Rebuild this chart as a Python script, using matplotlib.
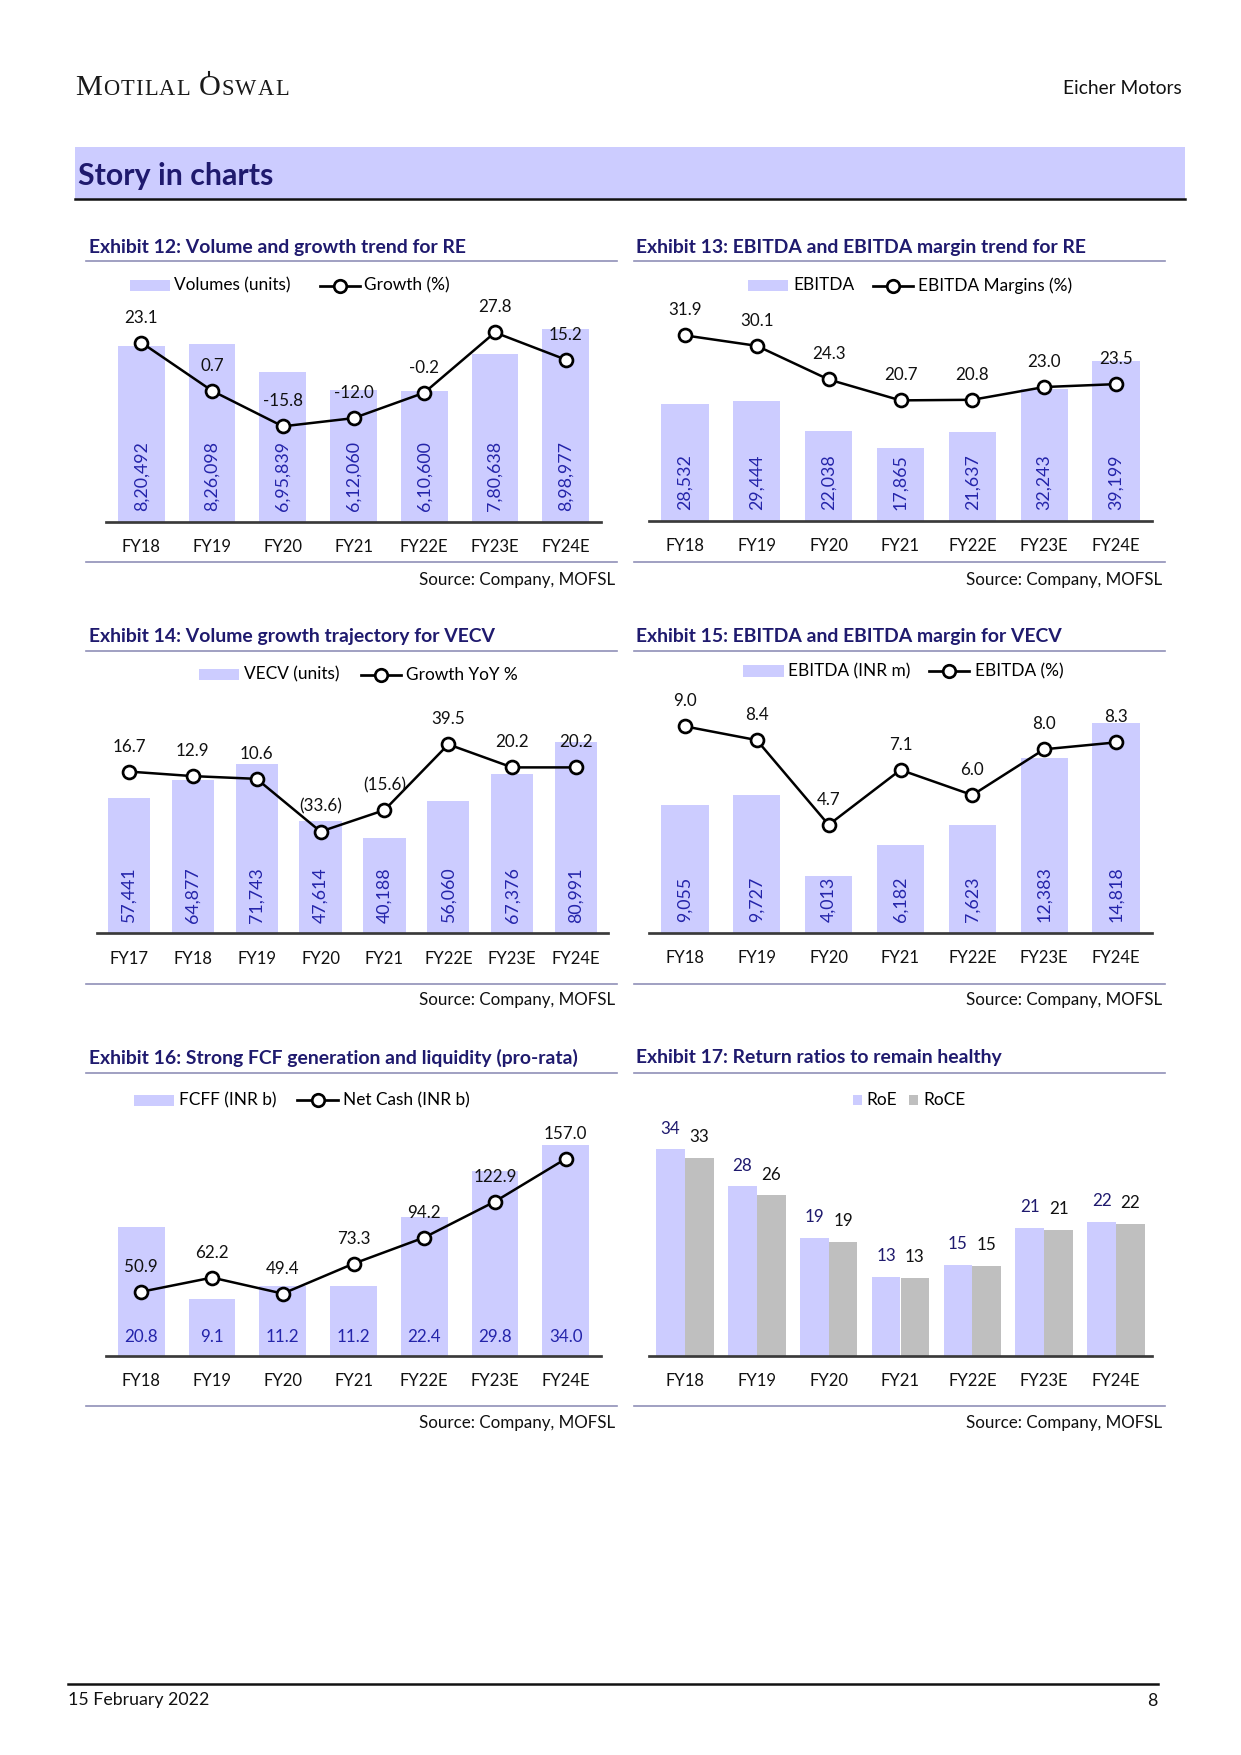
import matplotlib
matplotlib.use('Agg')
import numpy as np
import matplotlib.pyplot as plt
from matplotlib.lines import Line2D
from matplotlib.patches import Rectangle

plt.rcParams['font.family'] = ['Lato', 'DejaVu Sans']

W, H = 1241, 1755
LAV = '#CCCCFF'
GREY = '#BFBFBF'
NAVY = '#1F1A6E'
BLUE = '#2424AA'
RULE = '#9090B8'

years7 = ['FY18', 'FY19', 'FY20', 'FY21', 'FY22E', 'FY23E', 'FY24E']
years8 = ['FY17'] + years7

re_volumes = [820492, 826098, 695839, 612060, 610600, 780638, 898977]
re_growth = [23.1, 0.7, -15.8, -12.0, -0.2, 27.8, 15.2]

re_ebitda = [28532, 29444, 22038, 17865, 21637, 32243, 39199]
re_margin = [31.9, 30.1, 24.3, 20.7, 20.8, 23.0, 23.5]

vecv_volumes = [57441, 64877, 71743, 47614, 40188, 56060, 67376, 80991]
vecv_growth = [16.7, 12.9, 10.6, -33.6, -15.6, 39.5, 20.2, 20.2]

vecv_ebitda = [9055, 9727, 4013, 6182, 7623, 12383, 14818]
vecv_margin = [9.0, 8.4, 4.7, 7.1, 6.0, 8.0, 8.3]

fcff = [20.8, 9.1, 11.2, 11.2, 22.4, 29.8, 34.0]
net_cash = [50.9, 62.2, 49.4, 73.3, 94.2, 122.9, 157.0]

roe = [34.0, 27.9, 19.4, 12.9, 15.0, 21.0, 22.1]
roce = [32.6, 26.4, 18.7, 12.8, 14.8, 20.7, 21.7]


def inr(v):
    # indian digit grouping, 8,20,492
    s = str(int(v))
    last3, rest = s[-3:], s[:-3]
    groups = []
    while len(rest) > 2:
        groups.insert(0, rest[-2:])
        rest = rest[:-2]
    if rest:
        groups.insert(0, rest)
    return ','.join(groups + [last3])


def paren(v):
    return f'({abs(v):.1f})' if v < 0 else f'{v:.1f}'


fig = plt.figure(figsize=(W / 150, H / 150), dpi=150)
fig.patch.set_facecolor('white')


def px_axes(x0, y0, x1, y1):
    return fig.add_axes([x0 / W, 1 - y1 / H, (x1 - x0) / W, (y1 - y0) / H])


def ftext(x, y, s, **kw):
    return fig.text(x / W, 1 - y / H, s, **kw)


def hline(x0, x1, y, color=RULE, lw=0.8):
    fig.add_artist(Line2D([x0 / W, x1 / W], [1 - y / H] * 2, transform=fig.transFigure,
                          color=color, lw=lw))


def leg_patch(x0, x1, y, h, color):
    fig.add_artist(Rectangle((x0 / W, 1 - (y + h / 2) / H), (x1 - x0) / W, h / H,
                             transform=fig.transFigure, color=color, lw=0))


def leg_line(x0, x1, y):
    fig.add_artist(Line2D([x0 / W, x1 / W], [1 - y / H] * 2, transform=fig.transFigure,
                          color='black', lw=1.3))
    fig.add_artist(Line2D([(x0 + x1) / 2 / W], [1 - y / H], transform=fig.transFigure,
                          marker='o', ms=6, mfc='white', mec='black', mew=1.3))


def style_ax(ax, cats):
    for s in ['top', 'right', 'left']:
        ax.spines[s].set_visible(False)
    ax.spines['bottom'].set_color('#3a3a3a')
    ax.spines['bottom'].set_linewidth(1.3)
    ax.set_yticks([])
    ax.set_xticks(range(len(cats)))
    ax.set_xticklabels(cats)
    ax.tick_params(axis='x', length=0, pad=8.5, labelsize=8, labelcolor='#111111')
    ax.set_xlim(-0.5, len(cats) - 0.5)
    ax.patch.set_visible(False)


def bar_line(rect, cats, bars, line, bar_lim, line_lim, bar_txt, line_txt, rotate=True):
    ax = px_axes(*rect)
    x = np.arange(len(cats))
    ax.bar(x, bars, width=0.66, color=LAV)
    ax.set_ylim(*bar_lim)
    style_ax(ax, cats)
    for xi, s in zip(x, bar_txt):
        if rotate:
            ax.annotate(s, (xi, 0), xytext=(0, 5), textcoords='offset points', rotation=90,
                        ha='center', va='bottom', color=BLUE, fontsize=8.5)
        else:
            ax.annotate(s, (xi, 0), xytext=(0, 9), textcoords='offset points',
                        ha='center', va='center', color=BLUE, fontsize=8.2)
    ax2 = ax.twinx()
    ax2.plot(x, line, color='black', lw=1.2, marker='o', ms=6.2, mfc='white', mec='black',
             mew=1.3, clip_on=False)
    ax2.set_ylim(*line_lim)
    ax2.axis('off')
    for xi, v, s in zip(x, line, line_txt):
        ax2.annotate(s, (xi, v), xytext=(0, 12), textcoords='offset points',
                     ha='center', va='center', fontsize=8.2, color='#111111')
    return ax


# header: spaced small caps logo
r = fig.canvas.get_renderer()
x = 75
for word in ['MOTILAL', 'OSWAL']:
    for i, ch in enumerate(word):
        size = 14.5 if i == 0 else 10.8
        t = ftext(x, 95, ch, fontsize=size, family='Liberation Serif', va='baseline',
                  color='#1a1a1a')
        w = t.get_window_extent(renderer=r).width
        if word == 'OSWAL' and i == 0:
            # small mark above the O
            fig.add_artist(Line2D([(x + w / 2) / W] * 2, [1 - 72 / H, 1 - 76 / H],
                                  transform=fig.transFigure, color='#1a1a1a', lw=1.0))
        x += w + 1.2
    x += 7
ftext(1182, 89, 'Eicher Motors', fontsize=9.2, ha='right', va='center', color='#111111')

fig.add_artist(Rectangle((75 / W, 1 - 199 / H), (1185 - 75) / W, 52 / H,
                         transform=fig.transFigure, color=LAV, lw=0))
hline(75, 1185, 199, color='#111111', lw=1.2)
ftext(78, 176, 'Story in charts', fontsize=14.5, weight='bold', color=NAVY, va='center')

# exhibit titles, rules and sources
titles = [
    (89, 247, 'Exhibit 12: Volume and growth trend for RE'),
    (636, 247, 'Exhibit 13: EBITDA and EBITDA margin trend for RE'),
    (89, 636.5, 'Exhibit 14: Volume growth trajectory for VECV'),
    (636, 636.5, 'Exhibit 15: EBITDA and EBITDA margin for VECV'),
    (89, 1057.5, 'Exhibit 16: Strong FCF generation and liquidity (pro-rata)'),
    (636, 1057.5, 'Exhibit 17: Return ratios to remain healthy'),
]
for tx, ty, s in titles:
    ftext(tx, ty, s, fontsize=9.3, weight='bold', color=NAVY, va='center')

for ty, by, sy in [(261, 562, 579.5), (651, 983.5, 1000), (1072.5, 1406, 1423)]:
    hline(86, 617, ty)
    hline(634, 1165, ty)
    hline(86, 617, by)
    hline(634, 1165, by)
    ftext(615, sy, 'Source: Company, MOFSL', fontsize=8.2, ha='right', va='center', color='#111111')
    ftext(1162, sy, 'Source: Company, MOFSL', fontsize=8.2, ha='right', va='center', color='#111111')

# Exhibit 12
bar_line((106, 296.5, 601, 521.5), years7, re_volumes, re_growth, (0, 1050000), (-60, 44.5),
         [inr(v) for v in re_volumes], [f'{v:.1f}' for v in re_growth])
leg_patch(130, 170, 285.5, 11, LAV)
ftext(174, 285.5, 'Volumes (units)', fontsize=8.3, va='center')
leg_line(320, 360, 285.5)
ftext(364, 285.5, 'Growth (%)', fontsize=8.3, va='center')

# Exhibit 13
bar_line((649, 296.5, 1152, 520.5), years7, re_ebitda, re_margin, (0, 55000), (0, 38.6),
         [inr(v) for v in re_ebitda], [f'{v:.1f}' for v in re_margin])
leg_patch(748, 788, 285.5, 11, LAV)
ftext(793, 285.5, 'EBITDA', fontsize=8.3, va='center')
leg_line(873, 913, 285.5)
ftext(918, 285.5, 'EBITDA Margins (%)', fontsize=8.3, va='center')

# Exhibit 14
bar_line((97, 692, 608, 933), years8, vecv_volumes, vecv_growth, (0, 102400), (-118.6, 83.4),
         [inr(v) for v in vecv_volumes], [paren(v) for v in vecv_growth])
leg_patch(199, 239, 674.5, 11, LAV)
ftext(244, 674.5, 'VECV (units)', fontsize=8.3, va='center')
leg_line(361, 401, 674.5)
ftext(406, 674.5, 'Growth YoY %', fontsize=8.3, va='center')

# Exhibit 15
bar_line((649, 692, 1152, 932.5), years7, vecv_ebitda, vecv_margin, (0, 17040), (0, 10.5),
         [inr(v) for v in vecv_ebitda], [f'{v:.1f}' for v in vecv_margin])
leg_patch(743, 784, 671, 11, LAV)
ftext(788, 671, 'EBITDA (INR m)', fontsize=8.3, va='center')
leg_line(929, 969, 671)
ftext(975, 671, 'EBITDA (%)', fontsize=8.3, va='center')

# Exhibit 16
bar_line((106, 1113, 601, 1355.5), years7, fcff, net_cash, (0, 39.2), (0, 193.6),
         [f'{v:.1f}' for v in fcff], [f'{v:.1f}' for v in net_cash], rotate=False)
leg_patch(134, 174, 1100, 11, LAV)
ftext(179, 1100, 'FCFF (INR b)', fontsize=8.3, va='center')
leg_line(297, 338, 1100)
ftext(343, 1100, 'Net Cash (INR b)', fontsize=8.3, va='center')

# Exhibit 17
ax = px_axes(649, 1113, 1152, 1355.5)
xs = np.arange(len(years7))
ax.bar(xs - 0.2, roe, width=0.4, color=LAV)
ax.bar(xs + 0.2, roce, width=0.4, color=GREY)
ax.set_ylim(0, 40)
style_ax(ax, years7)
for xi, v in zip(xs, roe):
    ax.annotate(f'{v:.0f}', (xi - 0.2, v), xytext=(0, 10), textcoords='offset points',
                ha='center', va='center', fontsize=8.2, color=NAVY)
for xi, v in zip(xs, roce):
    ax.annotate(f'{v:.0f}', (xi + 0.2, v), xytext=(0, 10), textcoords='offset points',
                ha='center', va='center', fontsize=8.2, color='#111111')
leg_patch(853, 862, 1100, 10, LAV)
ftext(866, 1100, 'RoE', fontsize=8.3, va='center')
leg_patch(909, 918, 1100, 10, GREY)
ftext(923, 1100, 'RoCE', fontsize=8.3, va='center')

# footer
hline(68, 1158, 1683.5, color='#111111', lw=1.2)
ftext(68, 1700.5, '15 February 2022', fontsize=8.5, va='center', color='#111111')
ftext(1158, 1700.5, '8', fontsize=8.5, ha='right', va='center', color='#111111')

fig.savefig('out.png', dpi=150)
